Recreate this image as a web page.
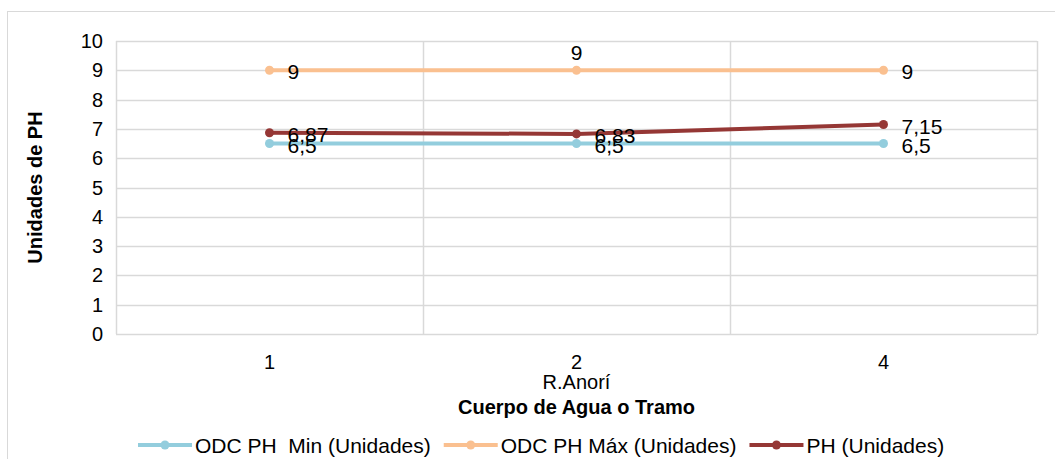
<!DOCTYPE html>
<html>
<head>
<meta charset="utf-8">
<script src="https://cdn.jsdelivr.net/npm/d3@7"></script>
<style>
  body { margin: 0; background: #fff; }
  text { font-family: "Liberation Sans", Arial, sans-serif; fill: #000; white-space: pre; }
</style>
</head>
<body>
<div class="chart"></div>
<script>
// datos
var categories = ["1", "2", "4"];
var groupLabel = "R.Anorí";
var seriesNames = ["ODC PH  Min (Unidades)", "ODC PH Máx (Unidades)", "PH (Unidades)"];
var seriesColors = ["#93cddd", "#fac090", "#953735"];
var phMin = [6.5, 6.5, 6.5];
var phMax = [9, 9, 9];
var phVal = [6.87, 6.83, 7.15];
var yTicks = [0, 1, 2, 3, 4, 5, 6, 7, 8, 9, 10];

var series = [phMin, phMax, phVal].map((vals, i) => ({
  name: seriesNames[i],
  color: seriesColors[i],
  values: vals.map((v, j) => ({ cat: categories[j], value: v, idx: j })),
}));

var width = 1055;
var height = 459;
var plot = { left: 116, right: 1037, top: 41, bottom: 334 };
var fontSize = 20;
var labelSize = 21;

var svg = d3
  .select(".chart")
  .append("svg")
  .attr("width", width)
  .attr("height", height);

// marco exterior
svg
  .append("rect")
  .attr("x", 7.5)
  .attr("y", 11.5)
  .attr("width", 1060)
  .attr("height", 470)
  .attr("fill", "#fff")
  .attr("stroke", "#d9d9d9")
  .attr("stroke-width", 1);

// escalas
var x = d3
  .scaleBand()
  .domain(categories)
  .range([plot.left, plot.right]);
var y = d3
  .scaleLinear()
  .domain([0, 10])
  .range([plot.bottom, plot.top]);

// rejilla
var grid = svg.append("g");
grid
  .selectAll("line.h")
  .data(yTicks)
  .enter()
  .append("line")
  .attr("x1", plot.left)
  .attr("x2", plot.right)
  .attr("y1", (d) => Math.round(y(d)) + 0.5)
  .attr("y2", (d) => Math.round(y(d)) + 0.5)
  .attr("stroke", "#d9d9d9")
  .attr("stroke-width", 1.5);
grid
  .selectAll("line.v")
  .data(categories.concat(["end"]))
  .enter()
  .append("line")
  .attr("x1", (d, i) => Math.round(plot.left + i * x.bandwidth()) + 0.5)
  .attr("x2", (d, i) => Math.round(plot.left + i * x.bandwidth()) + 0.5)
  .attr("y1", plot.top)
  .attr("y2", plot.bottom)
  .attr("stroke", "#d9d9d9")
  .attr("stroke-width", 1.5);

// etiquetas eje Y
svg
  .append("g")
  .selectAll("text")
  .data(yTicks)
  .enter()
  .append("text")
  .attr("x", 103)
  .attr("y", (d) => y(d) + 7)
  .attr("text-anchor", "end")
  .style("font-size", fontSize + "px")
  .text((d) => d);

// etiquetas eje X
svg
  .append("g")
  .selectAll("text")
  .data(categories)
  .enter()
  .append("text")
  .attr("x", (d) => x(d) + x.bandwidth() / 2)
  .attr("y", 369)
  .attr("text-anchor", "middle")
  .style("font-size", fontSize + "px")
  .text((d) => d);

svg
  .append("text")
  .attr("x", (plot.left + plot.right) / 2)
  .attr("y", 389)
  .attr("text-anchor", "middle")
  .style("font-size", fontSize + "px")
  .text(groupLabel);

// títulos
svg
  .append("text")
  .attr("x", (plot.left + plot.right) / 2)
  .attr("y", 414)
  .attr("text-anchor", "middle")
  .style("font-size", fontSize + "px")
  .style("font-weight", "bold")
  .text("Cuerpo de Agua o Tramo");

svg
  .append("text")
  .attr("transform", `translate(42, ${(plot.top + plot.bottom) / 2}) rotate(-90)`)
  .attr("text-anchor", "middle")
  .style("font-size", fontSize + "px")
  .style("font-weight", "bold")
  .text("Unidades de PH");

// líneas
var line = d3
  .line()
  .x((d) => x(d.cat) + x.bandwidth() / 2)
  .y((d) => y(d.value));

var seriesG = svg
  .selectAll("g.series")
  .data(series)
  .enter()
  .append("g")
  .attr("class", "series");

seriesG
  .append("path")
  .attr("d", (d) => line(d.values))
  .attr("fill", "none")
  .attr("stroke", (d) => d.color)
  .attr("stroke-width", 4)
  .attr("stroke-linecap", "round");

seriesG
  .selectAll("circle")
  .data((d) => d.values.map((v) => Object.assign({ color: d.color }, v)))
  .enter()
  .append("circle")
  .attr("cx", (d) => x(d.cat) + x.bandwidth() / 2)
  .attr("cy", (d) => y(d.value))
  .attr("r", 4.5)
  .attr("fill", (d) => d.color);

// etiquetas de datos (la del máximo en la categoría 2 va encima)
var fmt = (v) => String(v).replace(".", ",");
var isAbove = (d) => d.si === 1 && d.idx === 1;
seriesG
  .selectAll("text")
  .data((d, si) => d.values.map((v) => Object.assign({ si: si }, v)))
  .enter()
  .append("text")
  .attr("x", (d) => {
    var cx = x(d.cat) + x.bandwidth() / 2;
    return isAbove(d) ? cx : cx + 18;
  })
  .attr("y", (d) => {
    var cy = y(d.value);
    return isAbove(d) ? cy - 10 : cy + 9;
  })
  .attr("text-anchor", (d) => (isAbove(d) ? "middle" : "start"))
  .style("font-size", labelSize + "px")
  .text((d) => fmt(d.value));

// leyenda
var legend = svg.append("g");
var lx = 138;
series.forEach((s) => {
  var g = legend.append("g").attr("transform", `translate(${lx}, 445)`);
  g.append("line")
    .attr("x1", 0)
    .attr("x2", 54)
    .attr("stroke", s.color)
    .attr("stroke-width", 4);
  g.append("circle").attr("cx", 27).attr("r", 4.5).attr("fill", s.color);
  var t = g
    .append("text")
    .attr("x", 57)
    .attr("y", 7.5)
    .style("font-size", labelSize + "px")
    .text(s.name);
  lx += 57 + t.node().getComputedTextLength() + 13;
});
</script>
</body>
</html>
